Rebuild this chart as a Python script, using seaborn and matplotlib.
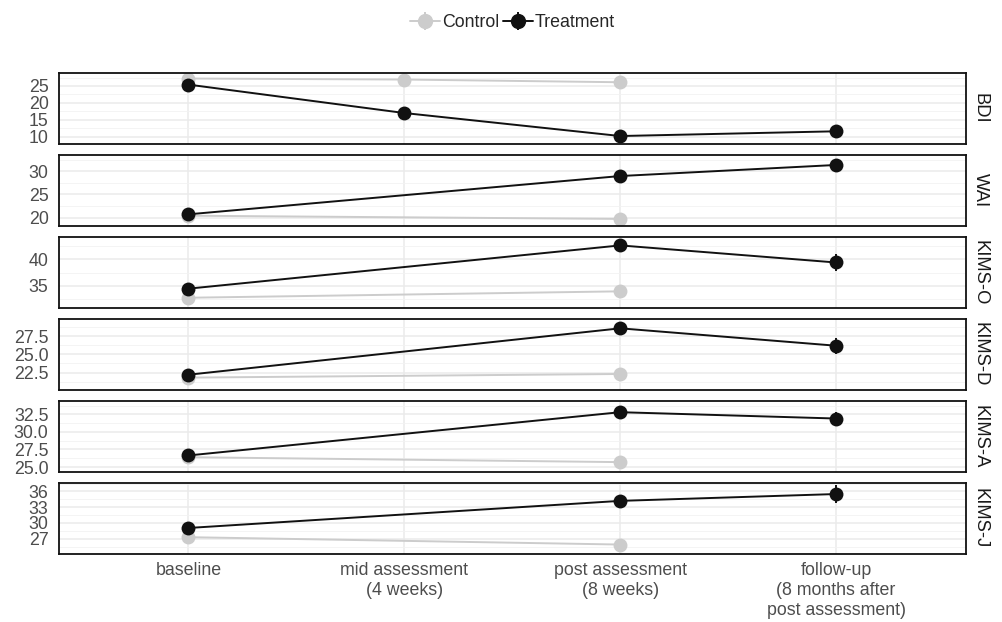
import numpy as np
import pandas as pd
import matplotlib.pyplot as plt
import seaborn as sns
from matplotlib.ticker import MultipleLocator, AutoMinorLocator, FormatStrFormatter

# time points along the x axis
timepoints = ["baseline", "mid assessment\n(4 weeks)", "post assessment\n(8 weeks)",
              "follow-up\n(8 months after\npost assessment)"]
measures = ["BDI", "WAI", "KIMS-O", "KIMS-D", "KIMS-A", "KIMS-J"]
groups = ["Control", "Treatment"]

# group means per measure (nan = not assessed)
control_mean = {
    "BDI":    [27.2, 26.9, 26.1, np.nan],
    "WAI":    [20.4, np.nan, 19.7, np.nan],
    "KIMS-O": [32.8, np.nan, 34.0, np.nan],
    "KIMS-D": [21.8, np.nan, 22.3, np.nan],
    "KIMS-A": [26.4, np.nan, 25.7, np.nan],
    "KIMS-J": [27.3, np.nan, 25.9, np.nan],
}
treatment_mean = {
    "BDI":    [25.4, 17.0, 10.2, 11.6],
    "WAI":    [20.7, np.nan, 29.0, 31.4],
    "KIMS-O": [34.5, np.nan, 42.6, 39.4],
    "KIMS-D": [22.2, np.nan, 28.6, 26.2],
    "KIMS-A": [26.65, np.nan, 32.8, 31.9],
    "KIMS-J": [29.05, np.nan, 34.2, 35.5],
}
# standard errors
control_se = {
    "BDI":    [0.8, 0.9, 0.9, np.nan],
    "WAI":    [0.6, np.nan, 0.7, np.nan],
    "KIMS-O": [0.6, np.nan, 0.7, np.nan],
    "KIMS-D": [0.4, np.nan, 0.5, np.nan],
    "KIMS-A": [0.4, np.nan, 0.5, np.nan],
    "KIMS-J": [0.5, np.nan, 0.6, np.nan],
}
treatment_se = {
    "BDI":    [0.9, 1.0, 1.1, 1.6],
    "WAI":    [0.7, np.nan, 0.9, 1.2],
    "KIMS-O": [0.7, np.nan, 0.8, 1.6],
    "KIMS-D": [0.5, np.nan, 0.6, 1.1],
    "KIMS-A": [0.5, np.nan, 0.6, 0.9],
    "KIMS-J": [0.5, np.nan, 0.7, 1.7],
}

# axis settings per panel: limits, major step, label format
ylims = {"BDI": (7.9, 28.9), "WAI": (18.2, 33.6), "KIMS-O": (30.9, 44.2),
         "KIMS-D": (20.1, 29.9), "KIMS-A": (24.3, 34.4), "KIMS-J": (24.1, 37.6)}
ysteps = {"BDI": 5, "WAI": 5, "KIMS-O": 5, "KIMS-D": 2.5, "KIMS-A": 2.5, "KIMS-J": 3}
yfmt = {"BDI": "%d", "WAI": "%d", "KIMS-O": "%d", "KIMS-D": "%.1f", "KIMS-A": "%.1f", "KIMS-J": "%d"}

palette = {"Control": "#CCCCCC", "Treatment": "#111111"}

rows = []
for m in measures:
    for g, means, ses in [("Control", control_mean, control_se), ("Treatment", treatment_mean, treatment_se)]:
        for i, t in enumerate(timepoints):
            rows.append({"measure": m, "group": g, "time": t, "pos": i,
                         "mean": means[m][i], "se": ses[m][i]})
df = pd.DataFrame(rows).dropna()

sns.set_theme(style="white")
plt.rcParams["font.family"] = ["Liberation Sans", "DejaVu Sans"]

fig, axes = plt.subplots(6, 1, sharex=True, figsize=(10.03, 6.22), dpi=100)
fig.subplots_adjust(left=0.0588, right=0.9627, top=0.883, bottom=0.1093, hspace=0.155)

for ax, m in zip(axes, measures):
    sub = df[df["measure"] == m]
    # error bars underneath
    for g in groups:
        s = sub[sub["group"] == g]
        ax.errorbar(s["pos"], s["mean"], yerr=s["se"], fmt="none",
                    ecolor=palette[g], elinewidth=1.4, capsize=0, zorder=1.9)
    sns.lineplot(data=sub, x="pos", y="mean", hue="group", hue_order=groups,
                 palette=palette, marker="o", markersize=10, markeredgewidth=0,
                 linewidth=1.4, estimator=None, legend=False, ax=ax)

    ax.set_ylim(*ylims[m])
    ax.set_xlim(-0.6, 3.6)
    ax.yaxis.set_major_locator(MultipleLocator(ysteps[m]))
    ax.yaxis.set_minor_locator(AutoMinorLocator(2))
    ax.yaxis.set_major_formatter(FormatStrFormatter(yfmt[m]))
    ax.set_xticks(range(len(timepoints)))
    ax.set_xticklabels(timepoints)
    ax.grid(which="major", axis="both", color="#EBEBEB", linewidth=1.1, zorder=0)
    ax.grid(which="minor", axis="y", color="#F2F2F2", linewidth=0.6, zorder=0)
    ax.set_axisbelow(True)
    ax.tick_params(axis="y", which="both", length=0, labelsize=12.8, colors="#4D4D4D", pad=7.5)
    ax.tick_params(axis="x", which="both", length=0, labelsize=12.8, colors="#4D4D4D", pad=6)
    ax.set_xlabel("")
    ax.set_ylabel("")
    for sp in ax.spines.values():
        sp.set_visible(True)
        sp.set_color("#111111")
        sp.set_linewidth(1.3)
    ax.text(1.007, 0.5, m, transform=ax.transAxes, rotation=270,
            ha="left", va="center", fontsize=13.2, color="#1A1A1A")

# legend with point + line + error bar glyphs
handles = []
for g in groups:
    h = axes[0].errorbar([np.nan], [np.nan], yerr=[1], fmt="-o", color=palette[g],
                         markersize=11, markeredgewidth=0, linewidth=1.4, label=g)
    handles.append(h)
fig.legend(handles=handles, labels=groups, loc="center", bbox_to_anchor=(0.511, 0.964),
           ncol=2, frameon=False, fontsize=12.8, handlelength=1.7, handletextpad=0.1,
           columnspacing=0.2)

plt.savefig("out.png", dpi=100)
